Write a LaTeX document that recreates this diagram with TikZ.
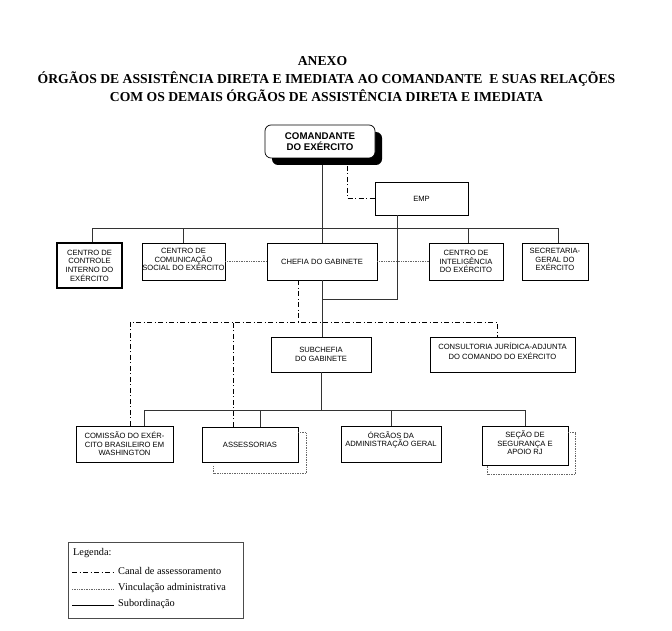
\documentclass[tikz,border=0pt]{standalone}
\usepackage{fontspec}
\setmainfont{Liberation Serif}
\setsansfont{Liberation Sans}
\begin{document}
\begin{tikzpicture}[x=1pt,y=-1pt,
  box/.style={draw=black,line width=0.7pt,fill=white,inner sep=0pt,align=center,
    font=\sffamily\fontsize{7.6}{8.6}\selectfont},
  conn/.style={draw=black!80,line width=0.6pt},
  dd/.style={draw=black,line width=0.6pt,dash pattern=on 5pt off 2.5pt on 1pt off 2.5pt},
  dt/.style={draw=black!60,line width=0.6pt,dash pattern=on 0.6pt off 1.1pt},
  ttl/.style={font=\bfseries\fontsize{13.65}{15}\selectfont,anchor=base,inner sep=0pt},
  leg/.style={font=\fontsize{10.3}{12}\selectfont,anchor=west,inner sep=0pt},
]
\useasboundingbox (0,0) rectangle (672,631);

% titles
\node[ttl] (t1) at (322.5,66) {ANEXO};
\node[ttl] (t2) at (326.5,84) {ÓRGÃOS DE ASSISTÊNCIA DIRETA E IMEDIATA AO COMANDANTE\ \ E SUAS RELAÇÕES};
\node[ttl] (t3) at (326.5,102) {COM OS DEMAIS ÓRGÃOS DE ASSISTÊNCIA DIRETA E IMEDIATA};

% commander
\node[fill=black,rounded corners=6pt,minimum width=110pt,minimum height=33pt,inner sep=0pt] (cmdsh) at (327,148.5) {};
\node[box,rounded corners=6pt,minimum width=110pt,minimum height=33pt,
  font=\sffamily\bfseries\fontsize{9.7}{11}\selectfont] (cmd) at (320,141.5) {COMANDANTE\\DO EXÉRCITO};

\node[box,minimum width=93pt,minimum height=33pt] (emp) at (421.5,198.5) {EMP};

% row 1
\node[box,line width=1.1pt,minimum width=65pt,minimum height=45pt] (cci) at (89.5,265.5) {CENTRO DE\\CONTROLE\\INTERNO DO\\EXÉRCITO};
\node[box,minimum width=83pt,minimum height=37pt] (ccs) at (183.5,261.5) {CENTRO DE\\COMUNICAÇÃO\\SOCIAL DO EXÉRCITO\\[-4.6pt]};
\node[box,minimum width=110pt,minimum height=37pt] (chefia) at (322,261.5) {CHEFIA DO GABINETE};
\node[box,minimum width=74pt,minimum height=37pt] (cie) at (466,261.5) {CENTRO DE\\INTELIGÊNCIA\\DO EXÉRCITO};
\node[box,minimum width=66pt,minimum height=37pt] (sge) at (555,261.5) {SECRETARIA-\\GERAL DO\\EXÉRCITO\\[-4.6pt]};

% row 2
\node[box,minimum width=100pt,minimum height=35pt] (sub) at (321,354.5) {SUBCHEFIA\\DO GABINETE};
\node[box,minimum width=145pt,minimum height=35pt] (cons) at (502.5,354.5) {CONSULTORIA JURÍDICA-ADJUNTA\\[1.5pt]DO COMANDO DO EXÉRCITO\\[-2.6pt]};

% row 3
\node[box,minimum width=97pt,minimum height=36pt] (cebw) at (124.5,444) {COMISSÃO DO EXÉR-\\CITO BRASILEIRO EM\\WASHINGTON};
\node[box,minimum width=96pt,minimum height=35pt] (ass) at (250,444.5) {ASSESSORIAS};
\node[box,minimum width=100pt,minimum height=36pt] (oag) at (391,444) {ÓRGÃOS DA\\ADMINISTRAÇÃO GERAL\\[1.4pt]};
\node[box,minimum width=86pt,minimum height=39pt] (ssa) at (525,445.5) {SEÇÃO DE\\SEGURANÇA E\\APOIO RJ\\[-3.6pt]};

% coordinates
\coordinate (bus1) at (0,228);
\coordinate (bus2) at (0,410);
\coordinate (ddbus) at (0,322);
\coordinate (j1) at (322,299);
\coordinate (cmdd) at (347,166);
\coordinate (sgen) at ([xshift=3pt]sge.north);
\coordinate (consd) at ([xshift=-5.5pt]cons.north);

% subordination
\draw[conn] (cmdsh.south -| chefia.north) -- (chefia.north);
\draw[conn] ([xshift=2.5pt]cci.north) |- (bus1 -| sgen) -- (sgen);
\draw[conn] (ccs.north) -- (ccs.north |- bus1);
\draw[conn] ([xshift=2pt]cie.north) -- ([xshift=2pt]cie.north |- bus1);
\draw[conn] ([xshift=-24.5pt]emp.south) |- (j1);
\draw[conn] (chefia.south) -- (chefia.south |- sub.north);
\draw[conn] (sub.south) -- (sub.south |- bus2);
\draw[conn] ([xshift=19.5pt]cebw.north) |- (bus2 -| ssa.north) -- (ssa.north);
\draw[conn] ([xshift=10pt]ass.north) -- ([xshift=10pt]ass.north |- bus2);
\draw[conn] (oag.north) -- (oag.north |- bus2);

% advisory channel
\draw[dd] (cmdd) |- (emp.west);
\draw[dd] ([xshift=-24pt]chefia.south) -- ([xshift=-24pt]chefia.south |- ddbus);
\draw[dd] ([xshift=5.5pt]cebw.north) |- (ddbus -| consd) -- (consd);
\draw[dd] ([xshift=-17pt]ass.north) -- ([xshift=-17pt]ass.north |- ddbus);

% administrative links
\draw[dt] (ccs.east) -- (chefia.west);
\draw[dt] (chefia.east) -- (cie.west);
\draw[dt] ([yshift=-6pt]ass.north east) -| ([xshift=8pt,yshift=-11pt]ass.south east) -| ([xshift=12pt,yshift=-3pt]ass.south west);
\draw[dt] ([yshift=-7pt]ssa.north east) -| ([xshift=7pt,yshift=-9pt]ssa.south east) -| ([xshift=6pt]ssa.south west);

% legend
\node[draw=black!70,line width=0.6pt,minimum width=175pt,minimum height=76pt,inner sep=0pt] (legend) at (155.5,580) {};
\node[leg] (lt) at (73,553) {Legenda:};
\coordinate (l1a) at (72,572);
\coordinate (l2a) at (72,589);
\coordinate (l3a) at (72,605);
\node[leg] (lc) at (118,571) {Canal de assessoramento};
\node[leg] (lv) at (118,588) {Vinculação administrativa};
\node[leg] (ls) at (118,604) {Subordinação};
\draw[dd] (l1a) -- ([xshift=-4pt]l1a -| lc.west);
\draw[dt] (l2a) -- ([xshift=-4pt]l2a -| lv.west);
\draw[line width=0.9pt] (l3a) -- ([xshift=-4pt]l3a -| ls.west);
\end{tikzpicture}
\end{document}
